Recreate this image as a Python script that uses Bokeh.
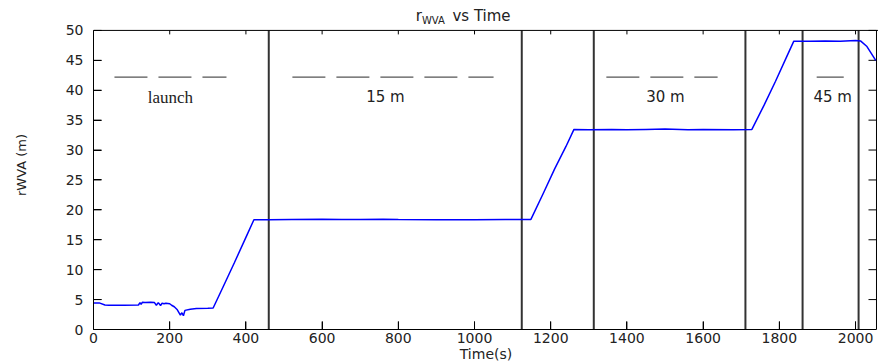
from bokeh.plotting import figure
from bokeh.models import Label, FixedTicker, Range1d, Span
from bokeh.embed import file_html
from bokeh.resources import INLINE

# ---- data ----
time_s = [0, 15, 30, 40, 80, 118, 122, 125, 128, 135, 150, 160, 165, 170, 176,
          180, 185, 190, 200, 205, 212, 220, 228, 232, 236, 240, 254, 270, 300,
          314, 340, 370, 400, 421, 460, 520, 600, 650, 700, 760, 800, 900, 1000,
          1080, 1148, 1180, 1210, 1240, 1261, 1300, 1360, 1400, 1450, 1500, 1560,
          1600, 1680, 1728, 1760, 1790, 1820, 1838, 1880, 1920, 1960, 2000, 2013,
          2030, 2053]
r_wva = [4.45, 4.45, 4.1, 4.05, 4.05, 4.1, 4.5, 4.2, 4.55, 4.5, 4.55, 4.5, 4.05,
         4.5, 4.0, 4.4, 4.3, 4.4, 4.3, 4.05, 3.8, 3.3, 2.4, 2.8, 2.3, 3.2, 3.4,
         3.5, 3.55, 3.6, 7.1, 11.2, 15.4, 18.35, 18.35, 18.4, 18.45, 18.4, 18.4,
         18.45, 18.4, 18.35, 18.35, 18.4, 18.4, 22.7, 26.8, 30.6, 33.45, 33.4,
         33.45, 33.4, 33.45, 33.5, 33.4, 33.45, 33.4, 33.45, 37.5, 41.5, 45.7,
         48.2, 48.2, 48.25, 48.2, 48.3, 48.25, 47.3, 45.0]

phase_bounds = [460, 1124, 1313, 1711, 1861, 2008]
phase_names = ["launch", "15 m", "30 m", "45 m"]
phase_label_x = [202, 766, 1501, 1940]
phase_label_y = [38.8, 38.8, 38.8, 38.8]
dash_x0 = [55, 522, 1346, 1898]
dash_x1 = [349, 1050, 1638, 1969]
dash_y = [42.2, 42.2, 42.2, 42.2]

x_ticks = list(range(0, 2001, 200))
y_ticks = list(range(0, 51, 5))

X_MAX, Y_MAX = 2055, 50          # extent of the axes box
PX_PER_X = 0.381                 # horizontal pixels per second
PX_PER_Y = 6.0                   # vertical pixels per metre
TOP_ROOM_PX, RIGHT_ROOM_PX = 30, 2
SANS = "DejaVu Sans"
INK = "#222222"

x_hi = X_MAX + RIGHT_ROOM_PX / PX_PER_X
y_hi = Y_MAX + TOP_ROOM_PX / PX_PER_Y

p = figure(width=878, height=364, output_backend="svg", toolbar_location=None,
           x_range=Range1d(0, x_hi), y_range=Range1d(0, y_hi),
           min_border_left=93, min_border_right=0, min_border_top=0,
           min_border_bottom=34, title=None)
p.background_fill_color = "white"
p.border_fill_color = "white"
p.outline_line_color = None
p.xgrid.visible = False
p.ygrid.visible = False

for ax, ticks, bnds in ((p.xaxis[0], x_ticks, (0, X_MAX)),
                        (p.yaxis[0], y_ticks, (0, Y_MAX))):
    ax.ticker = FixedTicker(ticks=ticks)
    ax.bounds = bnds
    ax.major_tick_in = 8
    ax.major_tick_out = 0
    ax.minor_tick_line_color = None
    ax.axis_line_color = "black"
    ax.major_tick_line_color = "black"
    ax.major_label_text_font = SANS
    ax.major_label_text_font_size = "14px"
    ax.major_label_text_color = INK
    ax.axis_label_text_font = SANS
    ax.axis_label_text_font_style = "normal"
    ax.axis_label_text_color = INK

p.xaxis[0].major_label_standoff = 3
p.xaxis[0].axis_label = "Time(s)"
p.xaxis[0].axis_label_text_font_size = "14px"
p.xaxis[0].axis_label_standoff = 0

p.yaxis[0].major_label_standoff = 10
p.yaxis[0].axis_label = "rWVA (m)"
p.yaxis[0].axis_label_text_font_size = "13px"
p.yaxis[0].axis_label_standoff = 34

# top and right edges of the box
p.add_layout(Span(location=Y_MAX, dimension="width", line_color="black", line_width=1))
p.segment(x0=[X_MAX], x1=[X_MAX], y0=[0], y1=[Y_MAX], line_color="black", line_width=1)

# inward ticks on all four edges of the box
tick_dy = 8 / PX_PER_Y
tick_dx = 8 / PX_PER_X
top_dy = 4 / PX_PER_Y
n_x, n_y = len(x_ticks), len(y_ticks)
p.segment(x0=x_ticks, x1=x_ticks, y0=[Y_MAX] * n_x, y1=[Y_MAX - top_dy] * n_x,
          line_color="black", line_width=1)
p.segment(x0=x_ticks, x1=x_ticks, y0=[0] * n_x, y1=[tick_dy] * n_x,
          line_color="black", line_width=1)
p.segment(x0=[X_MAX] * n_y, x1=[X_MAX - tick_dx] * n_y, y0=y_ticks, y1=y_ticks,
          line_color="black", line_width=1)
p.segment(x0=[0] * n_y, x1=[tick_dx] * n_y, y0=y_ticks, y1=y_ticks,
          line_color="black", line_width=1)

# phase boundary lines
p.segment(x0=phase_bounds, x1=phase_bounds, y0=[0] * len(phase_bounds),
          y1=[Y_MAX] * len(phase_bounds), line_color="#333333", line_width=2)

# dashed annotation lines
p.segment(x0=dash_x0, x1=dash_x1, y0=dash_y, y1=dash_y, line_color="#555555",
          line_width=1.3, line_dash="33 11")

# data line
p.line(time_s, r_wva, line_color="#0000ff", line_width=1.5)

# phase labels
for name, lx, ly in zip(phase_names, phase_label_x, phase_label_y):
    font = "Liberation Serif" if name == "launch" else SANS
    size = "17px" if name == "launch" else "15px"
    p.add_layout(Label(x=lx, y=ly, text=name, text_align="center",
                       text_baseline="middle", text_font=font,
                       text_font_size=size, text_color=INK))

# title  r_WVA vs Time  (above the box, in the top strip of the frame)
def title_part(text, x, y, size):
    p.add_layout(Label(x=x, y=y, text=text, text_font=SANS, text_font_size=size,
                       text_baseline="alphabetic", text_align="left",
                       text_color=INK))

title_part("r", 846, 52.35, "15px")
title_part("WVA", 862, 51.65, "10px")
title_part("vs Time", 942, 52.35, "15px")

open("out.html", "w").write(file_html(p, INLINE))
